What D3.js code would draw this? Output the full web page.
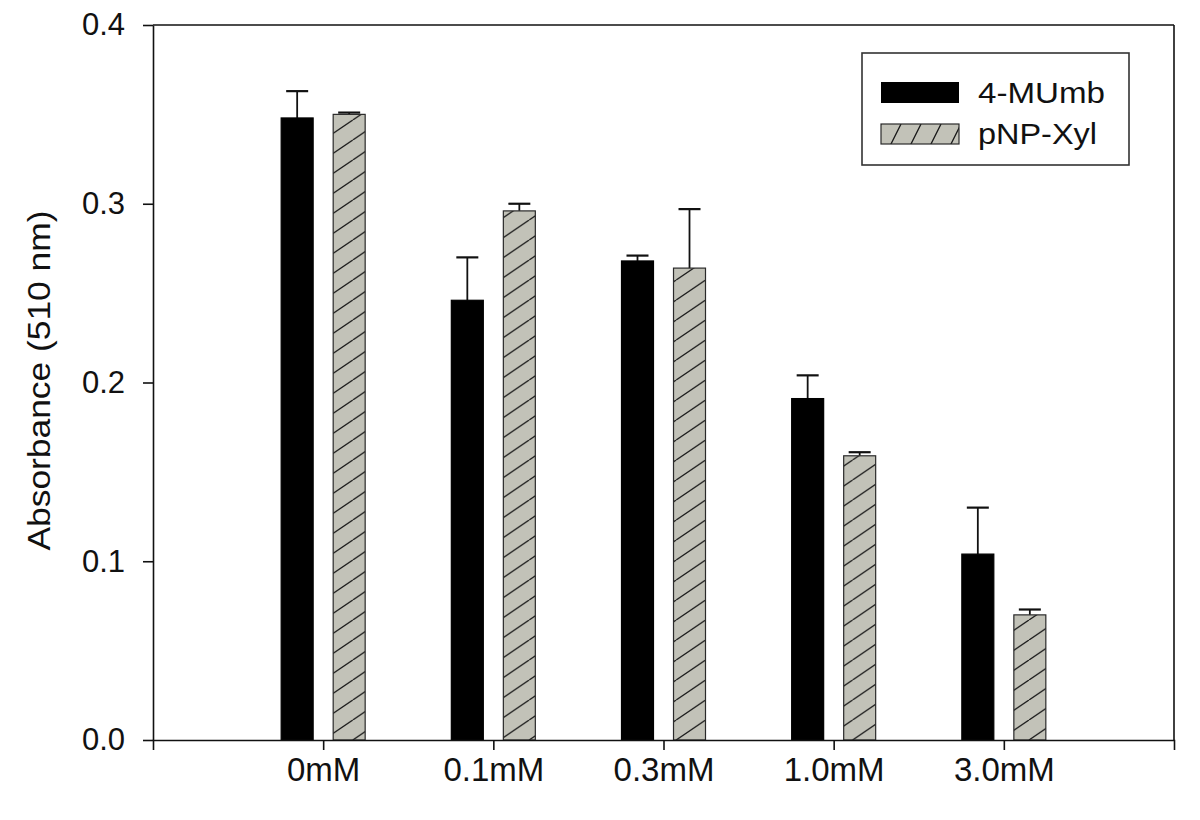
<!DOCTYPE html>
<html>
<head>
<meta charset="utf-8">
<script src="https://cdnjs.cloudflare.com/ajax/libs/d3/7.8.5/d3.min.js"></script>
<style>
  html, body { margin: 0; padding: 0; background: #fff; }
  svg { display: block; }
  text { font-family: "Liberation Sans", Arial, Helvetica, sans-serif; fill: #111; }
</style>
</head>
<body>
<svg id="chart" width="1200" height="820"></svg>
<script>
// ---- data ----
const categories = ["0mM", "0.1mM", "0.3mM", "1.0mM", "3.0mM"];
const seriesNames = ["4-MUmb", "pNP-Xyl"];
const muMeans = [0.348, 0.246, 0.268, 0.191, 0.104];
const muErrors = [0.015, 0.024, 0.003, 0.013, 0.026];
const xylMeans = [0.350, 0.296, 0.264, 0.159, 0.070];
const xylErrors = [0.001, 0.004, 0.033, 0.002, 0.003];
const yTicks = [0.0, 0.1, 0.2, 0.3, 0.4];
const yLabel = "Absorbance (510 nm)";

(function () {
const svg = d3.select("#chart");
const mLeft = 153, mRight = 1174, mTop = 25, mBottom = 740;

const defs = svg.append("defs");
// hatch pattern for bars
const ph = 20, pw = 29.4;
const pat = defs.append("pattern").attr("id", "hatch")
  .attr("patternUnits", "userSpaceOnUse").attr("width", pw).attr("height", ph);
pat.append("rect").attr("width", pw).attr("height", ph).attr("fill", "#c2c2b8");
pat.append("path")
  .attr("d", `M0,${ph} L${pw},0 M${-pw},${ph} L0,0 M${pw},${ph} L${2*pw},0`)
  .attr("stroke", "#1a1a1a").attr("stroke-width", 1.3);
// hatch pattern for legend swatch (steeper)
const lh = 40, lw = 20;
const lpat = defs.append("pattern").attr("id", "hatchLegend")
  .attr("patternUnits", "userSpaceOnUse").attr("width", lw).attr("height", lh)
  .attr("x", 881).attr("y", 124);
lpat.append("rect").attr("width", lw).attr("height", lh).attr("fill", "#c2c2b8");
lpat.append("path")
  .attr("d", `M0,${lh} L${lw},0 M${-lw},${lh} L0,0 M${lw},${lh} L${2*lw},0`)
  .attr("stroke", "#1a1a1a").attr("stroke-width", 1.3);

const x = d3.scalePoint().domain(categories).range([mLeft, mRight]).padding(1);
const xs = d3.scaleBand().domain(seriesNames).range([-42, 42]).paddingInner(0.385).paddingOuter(0);
const y = d3.scaleLinear().domain([0, 0.4]).range([mBottom, mTop]);

const data = [];
categories.forEach((c, i) => {
  data.push({cat: c, s: seriesNames[0], v: muMeans[i], e: muErrors[i]});
  data.push({cat: c, s: seriesNames[1], v: xylMeans[i], e: xylErrors[i]});
});

// frame top & right
svg.append("line").attr("x1", mLeft).attr("x2", mRight).attr("y1", mTop).attr("y2", mTop)
  .attr("stroke", "#111").attr("stroke-width", 1.6);
svg.append("line").attr("x1", mRight).attr("x2", mRight).attr("y1", mTop).attr("y2", mBottom)
  .attr("stroke", "#111").attr("stroke-width", 1.6);

// error bars
const eb = svg.append("g");
data.forEach(d => {
  const cx = x(d.cat) + xs(d.s) + xs.bandwidth() / 2;
  eb.append("line").attr("x1", cx).attr("x2", cx).attr("y1", y(d.v)).attr("y2", y(d.v + d.e))
    .attr("stroke", "#111").attr("stroke-width", 1.8);
  eb.append("line").attr("x1", cx - 11).attr("x2", cx + 11).attr("y1", y(d.v + d.e)).attr("y2", y(d.v + d.e))
    .attr("stroke", "#111").attr("stroke-width", 2.2);
});

// bars
svg.append("g").selectAll("rect").data(data).join("rect")
  .attr("x", d => x(d.cat) + xs(d.s))
  .attr("width", xs.bandwidth())
  .attr("y", d => y(d.v))
  .attr("height", d => y(0) - y(d.v))
  .attr("fill", d => d.s === seriesNames[0] ? "#000" : "url(#hatch)")
  .attr("stroke", d => d.s === seriesNames[0] ? "#000" : "#2a2a2a")
  .attr("stroke-width", 1.2);

// axes
const yAxis = svg.append("g").attr("transform", `translate(${mLeft},0)`)
  .call(d3.axisLeft(y).tickValues(yTicks).tickFormat(d3.format(".1f")).tickSize(10).tickSizeOuter(0).tickPadding(18));
const xAxis = svg.append("g").attr("transform", `translate(0,${mBottom})`)
  .call(d3.axisBottom(x).tickSize(10).tickSizeOuter(10).tickPadding(8));
[yAxis, xAxis].forEach(g => {
  g.selectAll("path, line").attr("stroke", "#111").attr("stroke-width", 1.6);
});
yAxis.selectAll("text").attr("font-size", 31).attr("fill", "#111");
xAxis.selectAll("text").attr("font-size", 33).attr("fill", "#111");

// y label
svg.append("text")
  .attr("transform", `translate(50,${(mTop + mBottom) / 2 - 2}) rotate(-90)`)
  .attr("text-anchor", "middle")
  .attr("font-size", 31)
  .attr("textLength", 340).attr("lengthAdjust", "spacingAndGlyphs")
  .text(yLabel);

// legend
const lg = svg.append("g");
lg.append("rect").attr("x", 862).attr("y", 53).attr("width", 267).attr("height", 112)
  .attr("fill", "#fff").attr("stroke", "#333").attr("stroke-width", 1.6);
lg.append("rect").attr("x", 881).attr("y", 82).attr("width", 78).attr("height", 21)
  .attr("fill", "#000");
lg.append("rect").attr("x", 881).attr("y", 124).attr("width", 78).attr("height", 20)
  .attr("fill", "url(#hatchLegend)").attr("stroke", "#2a2a2a").attr("stroke-width", 1.2);
lg.append("text").attr("x", 978).attr("y", 103).attr("font-size", 29)
  .attr("textLength", 127).attr("lengthAdjust", "spacingAndGlyphs").text(seriesNames[0]);
lg.append("text").attr("x", 978).attr("y", 144).attr("font-size", 29)
  .attr("textLength", 119).attr("lengthAdjust", "spacingAndGlyphs").text(seriesNames[1]);
})();
</script>
</body>
</html>
